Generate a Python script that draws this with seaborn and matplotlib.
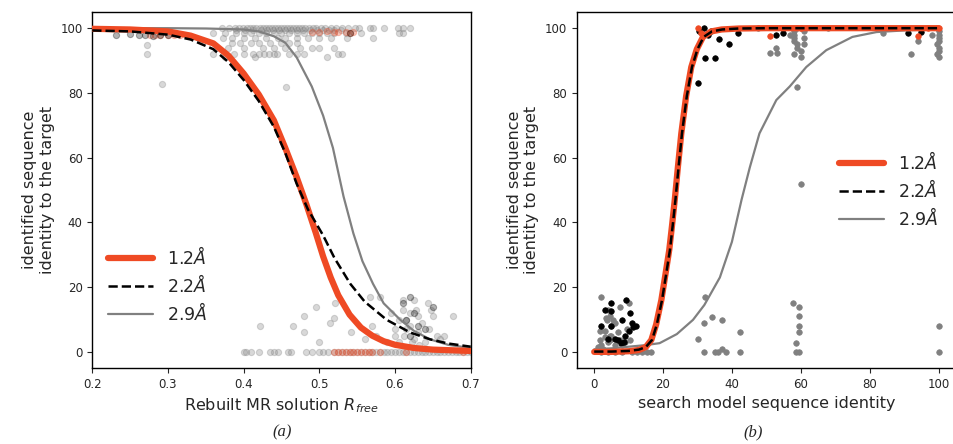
import matplotlib
matplotlib.use('Agg')
import matplotlib.pyplot as plt
import seaborn as sns
import numpy as np

# ---- panel (a): identity vs Rfree ----
# fitted curves
curve_a_12_x = [0.2, 0.25, 0.3, 0.33, 0.36, 0.38, 0.40, 0.42, 0.44, 0.455, 0.47, 0.483, 0.495,
                0.505, 0.515, 0.525, 0.54, 0.555, 0.57, 0.585, 0.60, 0.625, 0.65, 0.7]
curve_a_12_y = [99.8, 99.6, 99, 97.7, 95.3, 91.5, 86, 79.5, 71.5, 63, 54, 45.5, 37,
                29.5, 23, 17.5, 11.5, 7.5, 5, 3.3, 2.2, 1.2, 0.7, 0.3]
curve_a_22_x = [0.2, 0.25, 0.3, 0.33, 0.36, 0.38, 0.40, 0.42, 0.44, 0.455, 0.47, 0.485, 0.505,
                0.52, 0.541, 0.56, 0.589, 0.62, 0.646, 0.67, 0.7]
curve_a_22_y = [99.3, 99, 98, 96.5, 93.5, 89.5, 84, 77.5, 69.5, 61.5, 52, 44, 36,
                29, 21, 15.5, 9.9, 6, 3.9, 2.6, 1.6]
curve_a_29_x = [0.2, 0.3, 0.35, 0.40, 0.42, 0.44, 0.455, 0.47, 0.49, 0.505, 0.518, 0.532, 0.545,
                0.557, 0.571, 0.585, 0.607, 0.625, 0.646, 0.67, 0.7]
curve_a_29_y = [100, 100, 99.9, 99.6, 99, 97.5, 95.5, 91, 82, 73, 63, 48, 36.6,
                28, 21, 15, 9.9, 6.5, 3.9, 2.2, 1.2]

# scatter points, 2.9A (grey)
pts_a_29_x = [0.372, 0.381, 0.388, 0.394, 0.399, 0.404, 0.409, 0.413, 0.417, 0.421, 0.425, 0.429,
              0.433, 0.437, 0.441, 0.445, 0.449, 0.453, 0.457, 0.461, 0.465, 0.469, 0.473, 0.477,
              0.481, 0.486, 0.491, 0.496, 0.502, 0.508, 0.515, 0.522, 0.530, 0.538, 0.547, 0.553,
              0.567, 0.571, 0.586, 0.604, 0.611, 0.620,
              0.36, 0.375, 0.39, 0.40, 0.41, 0.42, 0.43, 0.44, 0.45, 0.46, 0.47, 0.48, 0.49, 0.50,
              0.51, 0.52, 0.535, 0.555, 0.605, 0.61,
              0.373, 0.385, 0.40, 0.415, 0.43, 0.445, 0.455, 0.47, 0.485, 0.50, 0.515, 0.536, 0.571,
              0.384, 0.395, 0.41, 0.42, 0.435, 0.45, 0.46, 0.47,
              0.38, 0.40, 0.425, 0.44, 0.455, 0.475, 0.49, 0.50, 0.52,
              0.36, 0.387, 0.40, 0.413, 0.42, 0.427, 0.433, 0.44, 0.444, 0.46, 0.47, 0.48, 0.525, 0.53,
              0.375, 0.415, 0.51,
              0.272, 0.272, 0.292, 0.456,
              0.40, 0.403, 0.41, 0.42, 0.435, 0.44, 0.445, 0.458, 0.462, 0.482, 0.49, 0.50, 0.505,
              0.512, 0.52, 0.525, 0.53, 0.535, 0.54, 0.545, 0.55, 0.555, 0.56, 0.565, 0.57, 0.575,
              0.58, 0.585, 0.59, 0.595, 0.60, 0.605, 0.61, 0.615, 0.62, 0.625, 0.63, 0.635, 0.64,
              0.645, 0.65, 0.655, 0.66, 0.665, 0.67, 0.675, 0.68, 0.685, 0.69, 0.695, 0.70,
              0.421, 0.465, 0.48, 0.48, 0.495, 0.50, 0.514, 0.52, 0.521, 0.542, 0.56, 0.567, 0.58,
              0.57, 0.575, 0.59, 0.595, 0.60, 0.605, 0.61, 0.61, 0.612, 0.615, 0.62, 0.62, 0.625,
              0.625, 0.63, 0.63, 0.635, 0.643, 0.64, 0.645, 0.648, 0.65, 0.655, 0.66, 0.665, 0.677,
              0.605, 0.615, 0.628, 0.622, 0.632, 0.60,
              0.39, 0.402, 0.412, 0.423, 0.431, 0.439, 0.447, 0.455, 0.463, 0.471, 0.479, 0.488,
              0.497, 0.505, 0.513, 0.52, 0.528]
pts_a_29_y = [100] * 42 + [98.5] * 20 + [97] * 13 + [95.3] * 8 + [94] * 9 + [92] * 14 + [91] * 3 + \
             [94.8, 92, 82.9, 81.9] + [0] * 51 + \
             [8, 8, 11, 6, 14, 3, 9, 10.5, 15, 6, 4, 17, 17,
              8, 5, 3, 12, 7, 3, 16, 13, 5, 10, 8, 12, 16,
              4, 11, 6, 9, 15, 3, 7, 13, 11, 5, 4, 5, 11,
              10, 7, 13, 3, 2, 5] + [99.3] * 17

# scatter points, 1.2A (red)
pts_a_12_x = [0.276, 0.283, 0.29, 0.30, 0.308, 0.316, 0.49, 0.50, 0.51, 0.52, 0.525, 0.535, 0.545,
              0.54, 0.52, 0.525, 0.53, 0.535, 0.54, 0.545, 0.55, 0.555, 0.56, 0.565, 0.57, 0.58,
              0.615, 0.69]
pts_a_12_y = [97.8, 98, 97.8, 98, 97.8, 98, 98.9, 98.9, 99, 98.8, 98.9, 98.8, 98.9,
              98.5] + [0] * 14

# scatter points, 2.2A (black)
pts_a_22_x = [0.232, 0.25, 0.262, 0.27, 0.28, 0.29, 0.30, 0.54, 0.61, 0.62, 0.615, 0.625, 0.63,
              0.62, 0.65, 0.64]
pts_a_22_y = [97.8, 98.2, 97.8, 98, 97.6, 98, 97.8, 98.5, 15, 17, 10, 12, 8, 5, 14, 7]

# ---- panel (b): identity vs search model identity ----
curve_b_12_x = [0, 5, 10, 13, 15, 16.6, 18, 19.5, 20.7, 21.8, 22.6, 23.4, 24.3, 25.3, 26.7, 28.2,
                29.8, 31.6, 34, 37, 42, 50, 70, 100]
curve_b_12_y = [0, 0, 0.2, 0.6, 1.5, 3.7, 8.5, 16, 24, 31.5, 39, 47, 57, 67.5, 79, 88,
                93.5, 97.3, 99, 99.6, 99.9, 100, 100, 100]
curve_b_22_x = [0, 5, 10, 13, 15, 16.8, 18.2, 19.7, 20.9, 22, 22.8, 23.6, 24.5, 25.5, 26.9, 28.4,
                30, 31.8, 34.2, 37.2, 42, 50, 70, 100]
curve_b_22_y = [0.1, 0.1, 0.3, 0.7, 1.5, 3.7, 8.5, 16, 24, 31.5, 39, 47, 57, 67.5, 79, 88,
                93.5, 97.3, 99, 99.6, 99.9, 100, 100, 100]
curve_b_29_x = [0, 5, 10, 15, 19, 24, 28.7, 32, 36.5, 40, 42.8, 45.2, 48, 52.9, 56.8, 61.6, 67.4,
                75, 82, 90, 100]
curve_b_29_y = [0.8, 1.1, 1.6, 2.1, 2.7, 5.5, 9.9, 14.5, 23, 34, 47, 57, 67.5, 77.8, 82, 88, 93.2,
                97.3, 98.8, 99.3, 99.7]

pts_b_29_x = [2.1, 10.2, 7.5, 3.6, 5.5, 1.7, 3, 4.5, 1.7, 4.6, 7.5, 10.3, 1, 2, 3, 4, 5, 6, 8, 9,
              4, 3.5, 4.5, 5, 6, 2.5, 9.5, 7,
              12.3, 13.8, 15.2, 16.6, 11, 2, 4, 6, 8,
              32.1, 34.3, 37.2, 32, 30.2, 42.3, 32, 35, 36, 37.2, 38.2, 42.3,
              57.6, 59.5, 59.5, 59.5, 59.5, 58.6, 58.6, 59.5, 100, 100, 59, 60,
              58, 58, 58, 58, 59, 59, 60, 58, 60, 61, 61, 61, 59, 60, 57,
              51, 53, 52.9, 47.6, 68, 84, 92, 94,
              99.5, 100, 100, 100, 100, 99.5, 100, 100, 99.5, 100, 98]
pts_b_29_y = [17.1, 15, 14, 9.9, 9.9, 6.3, 6.3, 5, 3.7, 3.7, 3.7, 3.7, 1.5, 2, 4.5, 3, 5, 2, 2, 3,
              13, 10.5, 11, 8, 9, 1, 7, 6,
              0, 0, 0, 0, 0, 0, 0, 0, 0,
              17.1, 10.9, 10, 9, 3.9, 6, 0, 0, 0, 1, 0, 0,
              15, 14, 11, 8, 6, 2.9, 0, 0, 8, 0, 81.9, 52,
              99, 98, 97, 96, 95, 94, 93, 92, 91, 99, 97, 95, 100, 100, 98,
              92.2, 92.2, 94, 100, 100, 98.5, 92, 96,
              100, 99, 98, 97, 96, 95, 94, 93, 92, 91, 98]

pts_b_22_x = [5, 9.2, 3.1, 5, 10.4, 8, 11.3, 10.2, 6.9, 7.9, 2, 5, 6, 9, 11, 12, 4, 8.6,
              30.2, 32.1, 35, 36.3, 39.2, 32, 33, 41.9, 52.9, 54.8, 91, 95, 30.5, 34]
pts_b_22_y = [15, 16, 13, 12.5, 12, 10, 7.6, 6.3, 3.7, 2.6, 8, 8, 4, 5, 9, 8, 4, 3,
              83, 90.8, 90.8, 96.8, 95, 100, 98, 98.5, 97.8, 98.5, 98.5, 98.8, 99, 99]

pts_b_12_x = [30.1, 31, 51, 94, 60, 100, 97]
pts_b_12_y = [100, 98.5, 97.6, 97.5, 100, 100, 100]

labels = ['1.2$Å$', '2.2$Å$', '2.9$Å$']

red = '#ef4a24'
grey = '#808080'

sns.set_style('ticks')
plt.rcParams['font.family'] = ['DejaVu Sans']

fig = plt.figure(figsize=(9.54, 4.44), dpi=100)
ax1 = fig.add_axes([0.0967, 0.171, 0.3967, 0.802])
ax2 = fig.add_axes([0.6048, 0.171, 0.397, 0.802])

# panel (a)
for px, py, c in [(pts_a_29_x, pts_a_29_y, grey), (pts_a_12_x, pts_a_12_y, red),
                  (pts_a_22_x, pts_a_22_y, 'black')]:
    sns.scatterplot(x=px, y=py, ax=ax1, color=c, s=20, alpha=0.3, edgecolor=c, linewidth=0.8,
                    legend=False, zorder=1)
sns.lineplot(x=curve_a_12_x, y=curve_a_12_y, ax=ax1, color=red, lw=4.5, sort=False,
             estimator=None, label=labels[0], zorder=3)
sns.lineplot(x=curve_a_22_x, y=curve_a_22_y, ax=ax1, color='black', lw=1.8, ls='--', sort=False,
             estimator=None, label=labels[1], zorder=4)
sns.lineplot(x=curve_a_29_x, y=curve_a_29_y, ax=ax1, color=grey, lw=1.6, sort=False,
             estimator=None, label=labels[2], zorder=2)
ax1.set_xlim(0.2, 0.7)
ax1.set_ylim(-5, 105)
ax1.set_xticks([0.2, 0.3, 0.4, 0.5, 0.6, 0.7])
ax1.set_xlabel('Rebuilt MR solution $R_{free}$', fontsize=11.5)
ax1.set_ylabel('identified sequence\nidentity to the target', fontsize=11.5)
ax1.legend(loc='lower left', bbox_to_anchor=(0.0, 0.08), frameon=False, fontsize=12.5,
           handlelength=2.6, labelspacing=0.35)

# panel (b)
for px, py, c in [(pts_b_29_x, pts_b_29_y, grey), (pts_b_22_x, pts_b_22_y, 'black'),
                  (pts_b_12_x, pts_b_12_y, red)]:
    sns.scatterplot(x=px, y=py, ax=ax2, color=c, s=16, edgecolor=c, linewidth=0.5,
                    legend=False, zorder=1)
sns.lineplot(x=curve_b_12_x, y=curve_b_12_y, ax=ax2, color=red, lw=4.5, sort=False,
             estimator=None, label=labels[0], zorder=3)
sns.lineplot(x=curve_b_22_x, y=curve_b_22_y, ax=ax2, color='black', lw=1.8, ls='--', sort=False,
             estimator=None, label=labels[1], zorder=4)
sns.lineplot(x=curve_b_29_x, y=curve_b_29_y, ax=ax2, color=grey, lw=1.6, sort=False,
             estimator=None, label=labels[2], zorder=2)
ax2.set_xlim(-5, 105)
ax2.set_ylim(-5, 105)
ax2.set_xticks([0, 20, 40, 60, 80, 100])
ax2.set_xlabel('search model sequence identity', fontsize=11.5)
ax2.set_ylabel('identified sequence\nidentity to the target', fontsize=11.5)
ax2.legend(loc='center right', bbox_to_anchor=(0.995, 0.5), frameon=False, fontsize=12.5,
           handlelength=2.6, labelspacing=0.35)

for ax in (ax1, ax2):
    ax.set_yticks([0, 20, 40, 60, 80, 100])
    ax.tick_params(labelsize=8.5)
    for sp in ax.spines.values():
        sp.set_linewidth(1.0)
        sp.set_color('black')

fig.text(0.2956, 0.027, '(a)', ha='center', va='center', fontsize=12,
         family='Liberation Serif', style='italic')
fig.text(0.789, 0.027, '(b)', ha='center', va='center', fontsize=12,
         family='Liberation Serif', style='italic')

fig.savefig('out.png', dpi=100)
